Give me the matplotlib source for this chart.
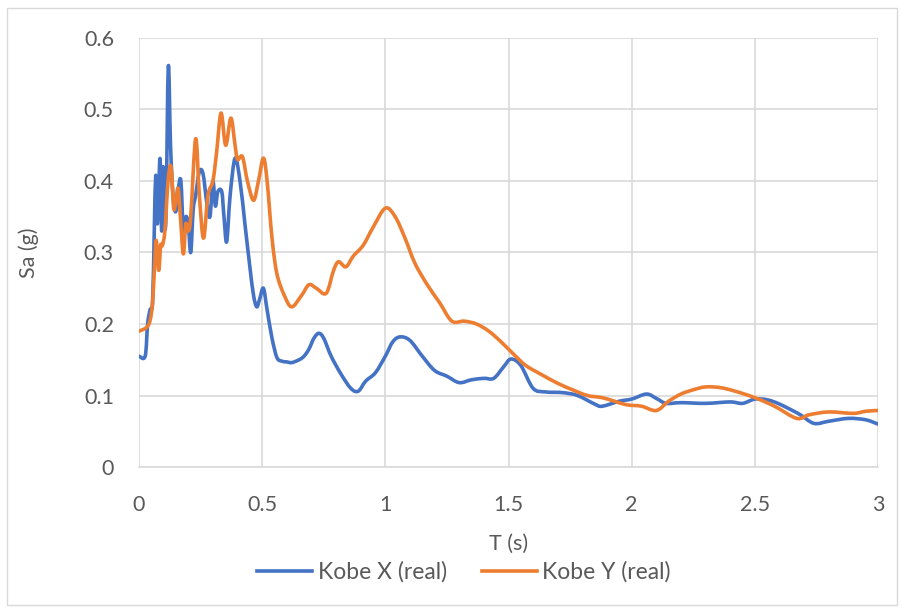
import matplotlib.pyplot as plt
import matplotlib.patches as mpatches
import matplotlib.ticker as mtick
from matplotlib.path import Path
from matplotlib.lines import Line2D

plt.rcParams['font.family'] = ['Lato', 'DejaVu Sans']

# Kobe X (real)
t_x = [0, 0.025, 0.035, 0.045, 0.055, 0.062, 0.068, 0.074, 0.08, 0.086,
       0.092, 0.098, 0.104, 0.11, 0.119, 0.128, 0.138, 0.149, 0.16, 0.17,
       0.18, 0.19, 0.2, 0.21, 0.22, 0.23, 0.245, 0.26, 0.275, 0.288,
       0.3, 0.31, 0.32, 0.336, 0.345, 0.356, 0.37, 0.39, 0.41, 0.43,
       0.45, 0.465, 0.478, 0.49, 0.505, 0.52, 0.54, 0.56, 0.58, 0.6,
       0.62, 0.65, 0.67, 0.69, 0.71, 0.73, 0.75, 0.78, 0.82, 0.86,
       0.89, 0.92, 0.96, 1.0, 1.03, 1.06, 1.1, 1.15, 1.2, 1.25,
       1.3, 1.35, 1.4, 1.44, 1.48, 1.51, 1.55, 1.6, 1.65, 1.72,
       1.78, 1.85, 1.88, 1.95, 2.0, 2.06, 2.1, 2.14, 2.2, 2.3,
       2.4, 2.45, 2.5, 2.55, 2.6, 2.68, 2.74, 2.8, 2.88, 2.95, 3.0]
sa_x = [0.155, 0.155, 0.2, 0.22, 0.23, 0.33, 0.408, 0.34, 0.39, 0.43,
        0.33, 0.42, 0.34, 0.36, 0.56, 0.45, 0.38, 0.357, 0.39, 0.40,
        0.33, 0.35, 0.34, 0.30, 0.36, 0.38, 0.413, 0.41, 0.37, 0.35,
        0.40, 0.365, 0.385, 0.385, 0.35, 0.315, 0.38, 0.432, 0.40, 0.34,
        0.28, 0.24, 0.224, 0.235, 0.25, 0.22, 0.18, 0.153, 0.148, 0.147,
        0.146, 0.15, 0.155, 0.165, 0.18, 0.187, 0.18, 0.155, 0.13, 0.11,
        0.106, 0.12, 0.132, 0.155, 0.175, 0.182, 0.177, 0.155, 0.135, 0.127,
        0.118, 0.122, 0.124, 0.124, 0.14, 0.151, 0.142, 0.11, 0.105, 0.104,
        0.1, 0.088, 0.085, 0.092, 0.095, 0.102, 0.096, 0.089, 0.09, 0.089,
        0.091, 0.089, 0.095, 0.094, 0.088, 0.074, 0.061, 0.064, 0.068, 0.066, 0.06]

# Kobe Y (real)
t_y = [0, 0.03, 0.045, 0.055, 0.063, 0.07, 0.08, 0.088, 0.095, 0.105,
       0.118, 0.13, 0.142, 0.158, 0.168, 0.18, 0.19, 0.2, 0.21, 0.23,
       0.245, 0.262, 0.28, 0.3, 0.315, 0.333, 0.352, 0.373, 0.39, 0.40,
       0.42, 0.44, 0.465, 0.485, 0.505, 0.52, 0.54, 0.56, 0.59, 0.62,
       0.66, 0.69, 0.72, 0.76, 0.79, 0.81, 0.84, 0.87, 0.91, 0.95,
       1.0, 1.04, 1.08, 1.12, 1.17, 1.22, 1.27, 1.32, 1.37, 1.42,
       1.47, 1.52, 1.57, 1.63, 1.7, 1.76, 1.82, 1.88, 1.93, 1.98,
       2.04, 2.1, 2.15, 2.2, 2.25, 2.3, 2.36, 2.42, 2.5, 2.58,
       2.67, 2.72, 2.8, 2.9, 2.95, 3.0]
sa_y = [0.19, 0.195, 0.205, 0.23, 0.28, 0.317, 0.275, 0.31, 0.31, 0.33,
        0.40, 0.42, 0.36, 0.39, 0.35, 0.298, 0.34, 0.33, 0.35, 0.459,
        0.38, 0.32, 0.38, 0.40, 0.44, 0.495, 0.45, 0.488, 0.45, 0.43,
        0.434, 0.40, 0.373, 0.40, 0.432, 0.40, 0.32, 0.27, 0.24, 0.224,
        0.24, 0.255, 0.25, 0.243, 0.275, 0.287, 0.28, 0.295, 0.31, 0.335,
        0.362, 0.35, 0.32, 0.285, 0.255, 0.23, 0.204, 0.204, 0.2, 0.19,
        0.175, 0.158, 0.142, 0.13, 0.117, 0.108, 0.1, 0.097, 0.092, 0.087,
        0.085, 0.079, 0.092, 0.102, 0.108, 0.112, 0.111, 0.106, 0.097, 0.085,
        0.068, 0.073, 0.077, 0.075, 0.078, 0.079]

TEXT = '#595959'
GRID = '#d9d9d9'
BLUE = '#4472c4'
ORANGE = '#ed7d31'
FS = 15.5


def smooth_path(xs, ys):
    # Excel-style smoothed line: cubic bezier through every point
    n = len(xs)
    verts = [(xs[0], ys[0])]
    codes = [Path.MOVETO]
    for i in range(n - 1):
        i0 = max(i - 1, 0)
        i3 = min(i + 2, n - 1)
        c1 = (xs[i] + (xs[i + 1] - xs[i0]) / 6, ys[i] + (ys[i + 1] - ys[i0]) / 6)
        c2 = (xs[i + 1] - (xs[i3] - xs[i]) / 6, ys[i + 1] - (ys[i3] - ys[i]) / 6)
        verts += [c1, c2, (xs[i + 1], ys[i + 1])]
        codes += [Path.CURVE4] * 3
    return Path(verts, codes)


fig = plt.figure(figsize=(9.02, 6.08), dpi=100)
ax = fig.add_axes([139 / 902, 1 - 467 / 608, (878 - 139) / 902, (467 - 38) / 608])

for xs, ys, c in [(t_x, sa_x, BLUE), (t_y, sa_y, ORANGE)]:
    ax.add_patch(mpatches.PathPatch(smooth_path(xs, ys), fill=False, edgecolor=c,
                                    lw=2.6, joinstyle='round', capstyle='round'))

ax.set_xlim(0, 3)
ax.set_ylim(0, 0.6)
ax.xaxis.set_major_locator(mtick.MultipleLocator(0.5))
ax.yaxis.set_major_locator(mtick.MultipleLocator(0.1))
ax.xaxis.set_major_formatter(mtick.FuncFormatter(lambda v, p: '%g' % v))
ax.yaxis.set_major_formatter(mtick.FuncFormatter(lambda v, p: '%g' % round(v, 2)))
ax.grid(True, color=GRID, lw=1.2)
ax.set_axisbelow(True)
for s in ['top', 'right', 'left']:
    ax.spines[s].set_visible(False)
ax.spines['bottom'].set_color(GRID)
ax.spines['bottom'].set_linewidth(1.2)
ax.tick_params(axis='x', length=0, labelsize=FS, colors=TEXT, pad=20)
ax.tick_params(axis='y', length=0, labelsize=FS, colors=TEXT, pad=18)

ax.set_xlabel('T (s)', fontsize=FS, color=TEXT, labelpad=14)
ax.set_ylabel('Sa (g)', fontsize=FS, color=TEXT, labelpad=32)

handles = [Line2D([], [], color=BLUE, lw=2.6), Line2D([], [], color=ORANGE, lw=2.6)]
fig.legend(handles, ['Kobe X (real)', 'Kobe Y (real)'], loc='center',
           bbox_to_anchor=(464 / 902, 1 - 572 / 608), ncol=2,
           frameon=False, fontsize=16.5, handlelength=2.4, handletextpad=0.25,
           columnspacing=1.5, labelcolor=TEXT)

# chart area border
fig.patches.append(mpatches.Rectangle((7 / 902, 3 / 608), 890 / 902, 597 / 608,
                                      transform=fig.transFigure, fill=False,
                                      edgecolor=GRID, lw=1))

fig.savefig('out.png', dpi=100)
